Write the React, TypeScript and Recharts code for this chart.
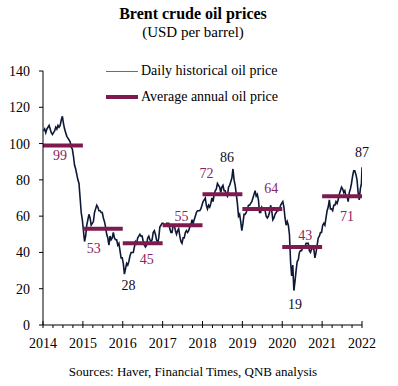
import React from 'react';
import { LineChart, Line, XAxis, YAxis, ReferenceDot, Legend } from 'recharts';

const FONT = '"Liberation Serif", "Times New Roman", serif';
const NAVY = '#0e1836';
const MAROON = '#7d1a4e';
const LABEL_MAROON = '#8a2463';

// calendar years and their average annual Brent price (USD/bbl)
const years = [2014, 2015, 2016, 2017, 2018, 2019, 2020, 2021];
const averageAnnual = [99, 53, 45, 55, 72, 64, 43, 71];
const yearTickLabels = [2014, 2015, 2016, 2017, 2018, 2019, 2020, 2021, 2022];
const yTicks = [0, 20, 40, 60, 80, 100, 120, 140];

// prices read roughly every ten days (36 readings per year)
const prices2014 = [107, 108, 106, 108, 109, 110, 108, 106, 105, 106, 107, 109, 108, 110, 109, 110, 113, 115, 111, 108, 106, 104, 103, 102, 101, 98, 97, 93, 88, 86, 83, 80, 78, 70, 62, 58];
const prices2015 = [52, 46, 49, 55, 58, 61, 59, 55, 56, 57, 62, 64, 66, 65, 63, 63, 62, 62, 59, 57, 54, 50, 48, 44, 49, 47, 48, 51, 48, 47, 47, 44, 45, 41, 37, 37];
const prices2016 = [34, 28, 31, 34, 33, 35, 38, 40, 40, 40, 43, 46, 45, 48, 49, 50, 49, 49, 46, 44, 43, 44, 48, 49, 47, 46, 47, 51, 52, 50, 47, 45, 48, 54, 55, 56];
const prices2017 = [56, 55, 55, 56, 56, 56, 53, 51, 51, 55, 55, 52, 50, 52, 53, 49, 46, 45, 48, 48, 51, 52, 51, 52, 54, 55, 58, 56, 58, 60, 62, 63, 63, 63, 64, 66];
const prices2018 = [68, 69, 70, 66, 64, 66, 65, 67, 70, 68, 72, 74, 75, 78, 77, 76, 73, 76, 77, 74, 74, 72, 71, 76, 77, 79, 81, 86, 80, 77, 72, 67, 60, 61, 57, 52];
const prices2019 = [56, 61, 61, 62, 64, 66, 66, 67, 68, 70, 72, 74, 71, 72, 69, 62, 62, 65, 64, 64, 63, 60, 59, 60, 62, 66, 63, 58, 59, 61, 62, 63, 63, 64, 66, 67];
const prices2020 = [68, 65, 59, 55, 57, 55, 50, 35, 27, 33, 19, 24, 30, 35, 36, 40, 41, 41, 43, 43, 43, 45, 45, 45, 41, 40, 42, 42, 42, 37, 40, 44, 48, 49, 51, 51];
const prices2021 = [55, 56, 55, 59, 63, 65, 69, 64, 64, 63, 66, 66, 68, 67, 69, 72, 74, 76, 75, 73, 74, 71, 71, 68, 73, 75, 78, 82, 85, 85, 83, 80, 73, 69, 75, 78];
const pricesByYear = [prices2014, prices2015, prices2016, prices2017, prices2018, prices2019, prices2020, prices2021];
const lastDate = 2022;
const lastPrice = 87;

// highlighted extremes: [date, value]
const extremeDates = [2016.042, 2018.764, 2020.292, 2022];
const extremeValues = [28, 86, 19, 87];

// label pixel offsets (styling only)
const avgLabelOffsets = [[-3, 10], [-9, 20], [4, 16], [-1, -9], [-16, -21], [9, -20], [3, -11], [5, 20]];
const extremeLabelOffsets = [[4, 11], [-6, -11], [1, 14], [0, -15]];

const daily: { date: number; price: number }[] = [];
pricesByYear.forEach((arr, yi) => {
  arr.forEach((p, i) => daily.push({ date: years[yi] + (i + 0.5) / 36, price: p }));
});
daily.push({ date: lastDate, price: lastPrice });

const quarterTicks: number[] = [];
yearTickLabels.forEach((y, i) => {
  quarterTicks.push(y);
  if (i < yearTickLabels.length - 1) quarterTicks.push(y + 0.25, y + 0.5, y + 0.75);
});

const XTick = (props: any) => {
  const { x, y, payload } = props;
  const v = payload.value;
  const major = Math.abs(v - Math.round(v)) < 1e-6;
  return (
    <g>
      {major ? (
        <line x1={x} x2={x} y1={y - 4} y2={y + 3} stroke="#000" strokeWidth={1} />
      ) : (
        <line x1={x} x2={x} y1={y} y2={y + 3} stroke="#000" strokeWidth={1} />
      )}
      {major && (
        <text x={x} y={y + 18} textAnchor="middle" dominantBaseline="central" fontFamily={FONT} fontSize={14} fill="#000">
          {Math.round(v)}
        </text>
      )}
    </g>
  );
};

const makeLabel = (text: string, dx: number, dy: number, color: string) => (props: any) => {
  const vb = props.viewBox || {};
  const cx = (vb.x || 0) + (vb.width || 0) / 2;
  const cy = (vb.y || 0) + (vb.height || 0) / 2;
  return (
    <text x={cx + dx} y={cy + dy} textAnchor="middle" dominantBaseline="central" fontFamily={FONT} fontSize={14} fill={color}>
      {text}
    </text>
  );
};

const LegendContent = () => (
  <div style={{ fontFamily: FONT, fontSize: 14, color: '#000', lineHeight: '26px' }}>
    <div style={{ display: 'flex', alignItems: 'center', height: 26 }}>
      <div style={{ width: 32, height: 1, background: '#6d6d6d', marginRight: 3 }} />
      <span>Daily historical oil price</span>
    </div>
    <div style={{ display: 'flex', alignItems: 'center', height: 26 }}>
      <div style={{ width: 32, height: 4, background: MAROON, marginRight: 3 }} />
      <span>Average annual oil price</span>
    </div>
  </div>
);

export default function App() {
  return (
    <div style={{ position: 'absolute', left: 0, top: 0, width: 398, height: 386, background: '#fff', fontFamily: FONT }}>
      <div style={{ position: 'absolute', left: 93, width: 200, top: 4, textAlign: 'center', fontWeight: 'bold', fontSize: 16, lineHeight: '20px', color: '#000' }}>
        Brent crude oil prices
      </div>
      <div style={{ position: 'absolute', left: 93, width: 200, top: 22, textAlign: 'center', fontSize: 15, lineHeight: '20px', color: '#000' }}>
        (USD per barrel)
      </div>
      <LineChart width={398} height={386} data={daily} margin={{ top: 71, right: 36, bottom: 31, left: 0 }}>
        <XAxis
          dataKey="date"
          type="number"
          domain={[2014, 2022]}
          ticks={quarterTicks}
          interval={0}
          height={30}
          tickSize={0}
          tickMargin={0}
          tickLine={false}
          axisLine={{ stroke: '#000', strokeWidth: 1 }}
          tick={<XTick />}
          allowDataOverflow
        />
        <YAxis
          type="number"
          domain={[0, 140]}
          ticks={yTicks}
          interval={0}
          width={43}
          tickSize={4}
          tickMargin={9}
          tickLine={{ stroke: '#000' }}
          axisLine={{ stroke: '#000', strokeWidth: 1 }}
          tick={{ fontFamily: FONT, fontSize: 14, fill: '#000' }}
        />
        <Legend
          layout="vertical"
          align="center"
          verticalAlign="middle"
          content={<LegendContent />}
          wrapperStyle={{ position: 'absolute', left: 106, top: 58, width: 'auto' }}
        />
        <Line
          type="linear"
          dataKey="price"
          name="Daily historical oil price"
          stroke={NAVY}
          strokeWidth={1.6}
          dot={false}
          isAnimationActive={false}
        />
        {years.map((y, i) => (
          <Line
            key={y}
            data={[{ date: y, avg: averageAnnual[i] }, { date: y + 1, avg: averageAnnual[i] }]}
            dataKey="avg"
            name="Average annual oil price"
            stroke={MAROON}
            strokeWidth={4}
            dot={false}
            legendType="none"
            isAnimationActive={false}
          />
        ))}
        {years.map((y, i) => (
          <ReferenceDot
            key={'al' + y}
            x={y + 0.5}
            y={averageAnnual[i]}
            r={0}
            fill="none"
            stroke="none"
            label={makeLabel(String(averageAnnual[i]), avgLabelOffsets[i][0], avgLabelOffsets[i][1], LABEL_MAROON)}
          />
        ))}
        {extremeDates.map((d, i) => (
          <ReferenceDot
            key={'ex' + i}
            x={d}
            y={extremeValues[i]}
            r={0}
            fill="none"
            stroke="none"
            label={makeLabel(String(extremeValues[i]), extremeLabelOffsets[i][0], extremeLabelOffsets[i][1], '#0d0d26')}
          />
        ))}
      </LineChart>
      <div style={{ position: 'absolute', left: 43, width: 300, top: 363, textAlign: 'center', fontSize: 13, lineHeight: '18px', color: '#000' }}>
        Sources: Haver, Financial Times, QNB analysis
      </div>
    </div>
  );
}
